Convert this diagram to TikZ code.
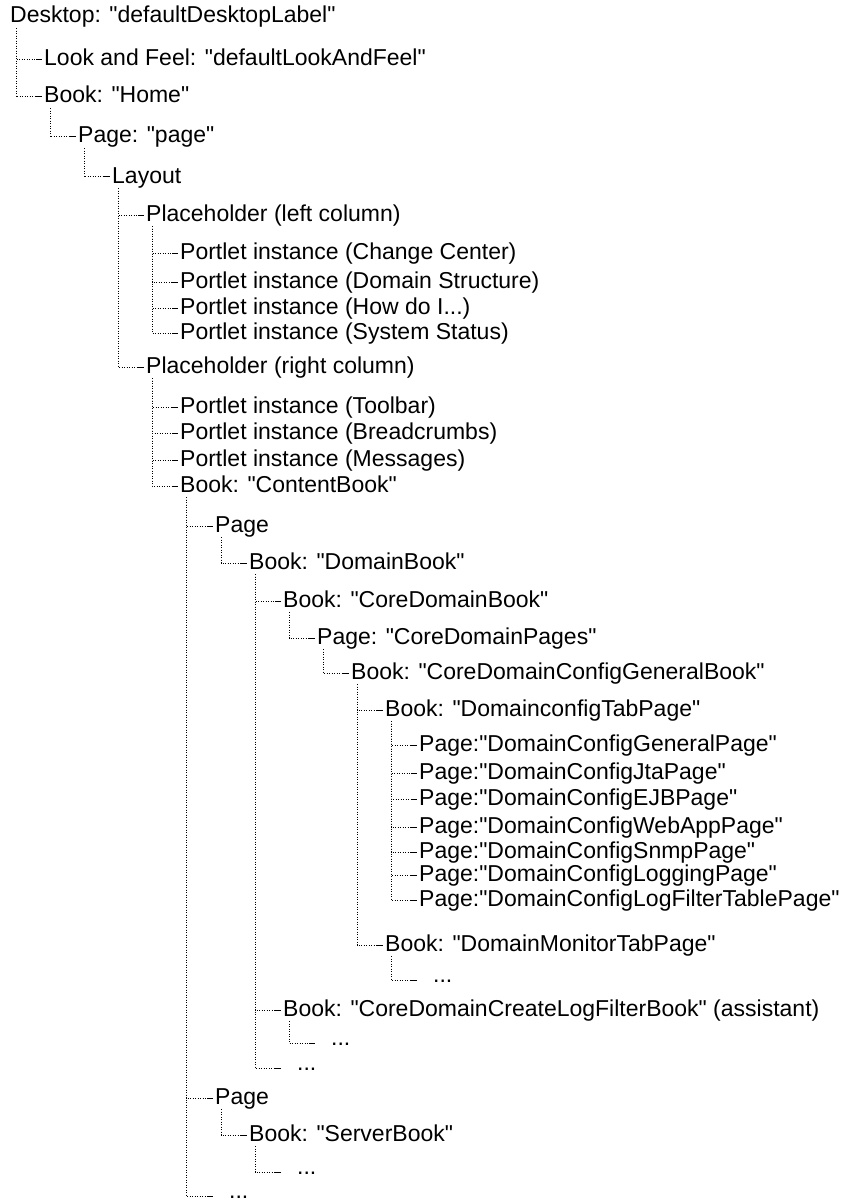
\documentclass[tikz,border=0pt]{standalone}
\usepackage{fontspec}
\newfontfamily\treefont{Liberation Sans}
\usetikzlibrary{calc}

\begin{document}
\begin{tikzpicture}[x=1pt,y=-1pt,
    font=\treefont\fontsize{23}{26}\selectfont,
    lbl/.style={anchor=west,inner sep=0pt,text height=17pt,text depth=5pt},
    more/.style={anchor=west,inner sep=0pt,text height=4.6pt,text depth=0pt},
    tree/.style={line width=1pt,dash pattern=on 1pt off 1.5pt},
    tick/.style={line width=1pt}]
    \useasboundingbox (0,0) rectangle (850,1201);
    % top of the desktop
    \node[lbl] (desk) at (10,17) {Desktop: "defaultDesktopLabel"};
    \node[lbl] (laf) at (44,60) {Look and Feel: "defaultLookAndFeel"};
    \node[lbl] (home) at (44,97) {Book: "Home"};
    \node[lbl] (page) at (78,137) {Page: "page"};
    \node[lbl] (layout) at (112,177) {Layout};
    % left column
    \node[lbl] (phl) at (146,215) {Placeholder (left column)};
    \node[lbl] (pcc) at (180,253) {Portlet instance (Change Center)};
    \node[lbl] (pds) at (180,282) {Portlet instance (Domain Structure)};
    \node[lbl] (phow) at (180,308) {Portlet instance (How do I...)};
    \node[lbl] (psys) at (180,333) {Portlet instance (System Status)};
    % right column
    \node[lbl] (phr) at (146,367) {Placeholder (right column)};
    \node[lbl] (ptool) at (180,407) {Portlet instance (Toolbar)};
    \node[lbl] (pbread) at (180,433) {Portlet instance (Breadcrumbs)};
    \node[lbl] (pmsg) at (180,460) {Portlet instance (Messages)};
    \node[lbl] (content) at (180,486) {Book: "ContentBook"};
    \node[lbl] (cpage) at (215,526) {Page};
    \node[lbl] (dombook) at (249,563) {Book: "DomainBook"};
    \node[lbl] (coredom) at (283,601) {Book: "CoreDomainBook"};
    \node[lbl] (corepages) at (317,638) {Page: "CoreDomainPages"};
    \node[lbl] (cdcgb) at (351,673) {Book: "CoreDomainConfigGeneralBook"};
    \node[lbl] (tabpage) at (385,710) {Book: "DomainconfigTabPage"};
    \node[lbl] (pgen) at (419,745) {Page:"DomainConfigGeneralPage"};
    \node[lbl] (pjta) at (419,773) {Page:"DomainConfigJtaPage"};
    \node[lbl] (pejb) at (419,799) {Page:"DomainConfigEJBPage"};
    \node[lbl] (pweb) at (419,827) {Page:"DomainConfigWebAppPage"};
    \node[lbl] (psnmp) at (419,852) {Page:"DomainConfigSnmpPage"};
    \node[lbl] (plog) at (419,875) {Page:"DomainConfigLoggingPage"};
    \node[lbl] (plft) at (419,900) {Page:"DomainConfigLogFilterTablePage"};
    \node[lbl] (montab) at (385,945) {Book: "DomainMonitorTabPage"};
    \node[more] (monmore) at (419,980) {\hspace*{14pt}...};
    \node[lbl] (logfilter) at (283,1010) {Book: "CoreDomainCreateLogFilterBook" (assistant)};
    \node[more] (lfmore) at (317,1043) {\hspace*{14pt}...};
    \node[more] (dommore) at (283,1068) {\hspace*{14pt}...};
    \node[lbl] (spage) at (215,1098) {Page};
    \node[lbl] (server) at (249,1135) {Book: "ServerBook"};
    \node[more] (sbmore) at (283,1172) {\hspace*{14pt}...};
    \node[more] (cbmore) at (215,1196) {\hspace*{14pt}...};
    % branches
    \foreach \p/\c in {desk/laf,desk/home,home/page,page/layout,
        layout/phl,layout/phr,phl/pcc,phl/pds,phl/phow,phl/psys,
        phr/ptool,phr/pbread,phr/pmsg,phr/content,
        content/cpage,content/spage,content/cbmore,cpage/dombook,
        dombook/coredom,dombook/logfilter,dombook/dommore,
        coredom/corepages,corepages/cdcgb,cdcgb/tabpage,cdcgb/montab,
        tabpage/pgen,tabpage/pjta,tabpage/pejb,tabpage/pweb,
        tabpage/psnmp,tabpage/plog,tabpage/plft,montab/monmore,
        logfilter/lfmore,spage/server,server/sbmore} {
      \draw[tree] ([xshift=6pt]\p.south west) |- ([xshift=-8pt]\c.west);
      \draw[tick] ([xshift=-8pt]\c.west) -- ([xshift=-2pt]\c.west);
    }
  \end{tikzpicture}
\end{document}
